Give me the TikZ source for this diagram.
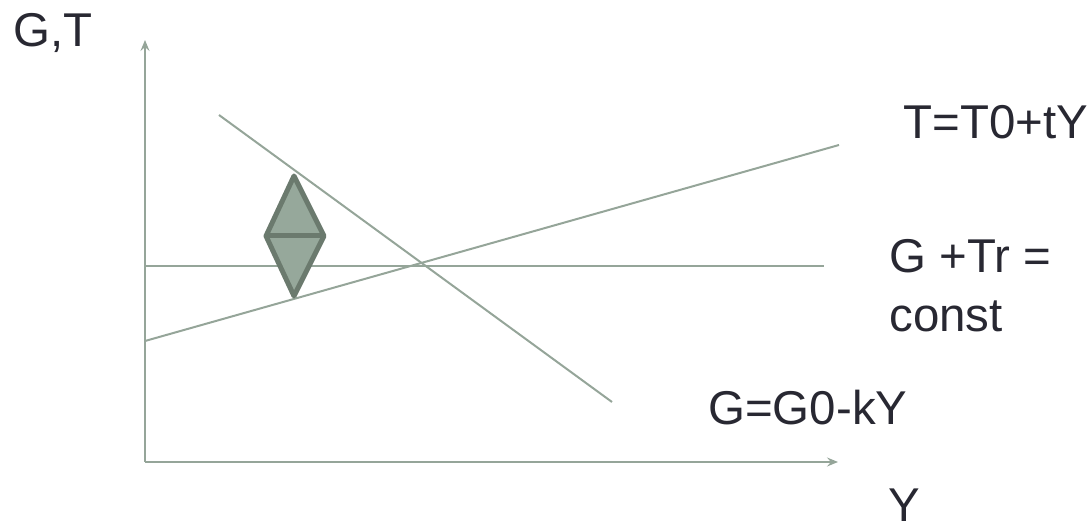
\documentclass[tikz,border=0pt]{standalone}
\usepackage{fontspec}
\setmainfont{Liberation Sans}
\usepackage{tikz}
\usetikzlibrary{arrows.meta}
\definecolor{linegray}{RGB}{149,165,153}
\definecolor{diafill}{RGB}{150,168,155}
\definecolor{diadraw}{RGB}{107,122,110}
\definecolor{txt}{RGB}{40,40,50}
\tikzset{
  curve/.style={linegray,line width=0.04cm},
  axis/.style={curve,-{Stealth[length=0.22cm,width=0.18cm,inset=0.08cm]}},
  lbl/.style={anchor=base west,inner sep=0pt,text=txt,font=\fontsize{27}{33.5}\selectfont},
}

\begin{document}
\begin{tikzpicture}[x=0.02cm,y=-0.02cm]
              \useasboundingbox (0,0) rectangle (1090,530);
              % axes
              \coordinate (o) at (145,462);
              \coordinate (ytop) at (145,40);
              \coordinate (xend) at (838,462);
              \draw[axis] (o)--(ytop);
              \draw[axis] (o)--(xend);
              % lines
              \coordinate (g1) at (219,115);
              \coordinate (g2) at (612,402);
              \coordinate (t1) at (145,341);
              \coordinate (t2) at (839,145);
              \coordinate (c1) at (145,266);
              \coordinate (c2) at (824,266);
              \draw[curve] (g1)--(g2);
              \draw[curve] (t1)--(t2);
              \draw[curve] (c1)--(c2);
              % diamond
              \coordinate (dt) at (294,176);
              \coordinate (dl) at (266,236);
              \coordinate (dr) at (324,236);
              \coordinate (db) at (294,296);
              \draw[diadraw,fill=diafill,line width=0.1cm,line join=round] (dt)--(dr)--(db)--(dl)--cycle;
              \draw[diadraw,line width=0.1cm] (dl)--(dr);
              % labels
              \node[lbl](gt)at(13,47){G,T};
              \node[lbl](tlab)at(903,139){T=T0+tY};
              \node[lbl](clab1)at(889,273){G +Tr =};
              \node[lbl](clab2)at(889,332){const};
              \node[lbl](glab)at(708,425){G=G0-kY};
              \node[lbl](ylab)at(888,521){Y};
\end{tikzpicture}
\end{document}
